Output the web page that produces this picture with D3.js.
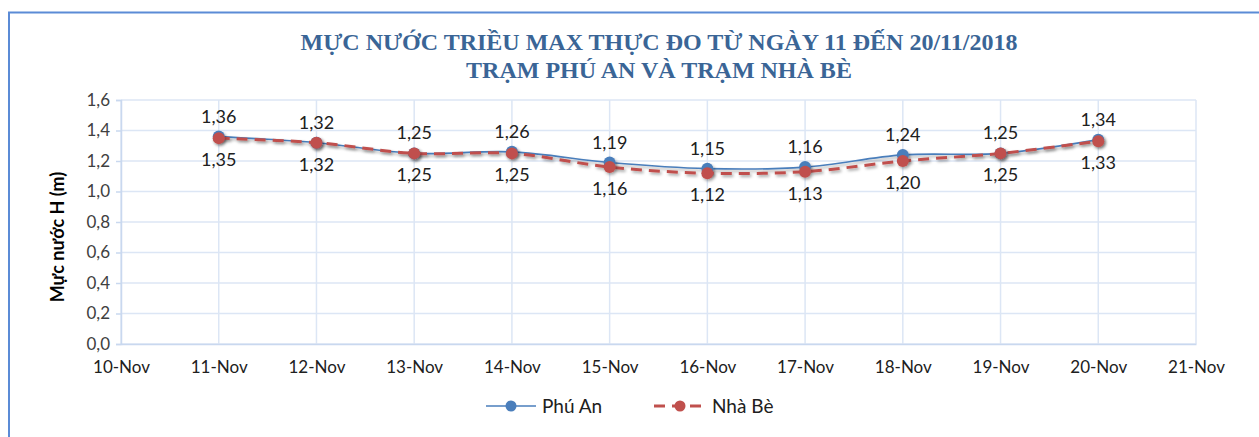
<!DOCTYPE html>
<html>
<head>
<meta charset="utf-8">
<script src="https://cdn.jsdelivr.net/npm/d3@7"></script>
<style>
  body { margin: 0; background: #fff; }
  svg { display: block; }
</style>
</head>
<body>
<div id="chart"></div>
<script>
// data
var days = ["10-Nov","11-Nov","12-Nov","13-Nov","14-Nov","15-Nov","16-Nov","17-Nov","18-Nov","19-Nov","20-Nov","21-Nov"];
var obsDays = ["11-Nov","12-Nov","13-Nov","14-Nov","15-Nov","16-Nov","17-Nov","18-Nov","19-Nov","20-Nov"];
var phuAn = [1.36, 1.32, 1.25, 1.26, 1.19, 1.15, 1.16, 1.24, 1.25, 1.34];
var nhaBe = [1.35, 1.32, 1.25, 1.25, 1.16, 1.12, 1.13, 1.20, 1.25, 1.33];
var yTicks = [0, 0.2, 0.4, 0.6, 0.8, 1.0, 1.2, 1.4, 1.6];
var titleLines = ["MỰC NƯỚC TRIỀU MAX THỰC ĐO TỪ NGÀY 11 ĐẾN 20/11/2018", "TRẠM PHÚ AN VÀ TRẠM NHÀ BÈ"];

var W = 1259, H = 437;
var margin = {top: 100, right: 63, bottom: 93, left: 121};
var width = W - margin.left - margin.right,
    height = H - margin.top - margin.bottom;

var fmt = function(v) { return d3.format(".2f")(v).replace(".", ","); };
var fmt1 = function(v) { return d3.format(".1f")(v).replace(".", ","); };
var font = "Lato, 'Open Sans', sans-serif";

var svgRoot = d3.select("#chart").append("svg")
  .attr("width", W).attr("height", H);

// shadow for lines and markers
var defs = svgRoot.append("defs");
var f = defs.append("filter").attr("id", "shadow")
  .attr("x", "-20%").attr("y", "-50%").attr("width", "140%").attr("height", "200%");
f.append("feDropShadow").attr("dx", 1.5).attr("dy", 2).attr("stdDeviation", 1.5)
  .attr("flood-color", "#000").attr("flood-opacity", 0.35);

// outer frame
svgRoot.append("path")
  .attr("d", "M9," + H + " L9,12.5 L" + W + ",12.5")
  .attr("fill", "none").attr("stroke", "#5b8bd6").attr("stroke-width", 2);

// title
svgRoot.append("g").selectAll("text").data(titleLines).join("text")
  .attr("x", 659).attr("y", function(d, i) { return 50 + i * 28; })
  .attr("text-anchor", "middle")
  .attr("font-family", "'Liberation Serif', 'Times New Roman', serif")
  .attr("font-weight", "bold").attr("font-size", 24)
  .attr("fill", "#3a6596")
  .text(function(d) { return d; });

var svg = svgRoot.append("g")
  .attr("transform", "translate(" + margin.left + "," + margin.top + ")");

var x = d3.scalePoint().domain(days).range([0, width]);
var y = d3.scaleLinear().domain([0, 1.6]).range([height, 0]);

var gridColor = "#dce6f5";

// horizontal grid
svg.append("g").selectAll("line").data(yTicks).join("line")
  .attr("x1", 0).attr("x2", width)
  .attr("y1", function(d) { return y(d); }).attr("y2", function(d) { return y(d); })
  .attr("stroke", gridColor).attr("stroke-width", 1.5);

// vertical grid
svg.append("g").selectAll("line").data(days).join("line")
  .attr("x1", function(d) { return x(d); }).attr("x2", function(d) { return x(d); })
  .attr("y1", 0).attr("y2", height)
  .attr("stroke", gridColor).attr("stroke-width", 1.5);

// y axis
var yAxis = svg.append("g")
  .call(d3.axisLeft(y).tickValues(yTicks).tickFormat(fmt1).tickSize(5).tickPadding(6));
yAxis.select(".domain").attr("stroke", "#c9d8ef").attr("stroke-width", 1.5);
yAxis.selectAll(".tick line").attr("stroke", "#c9d8ef").attr("stroke-width", 1.5);
yAxis.selectAll("text").attr("font-family", font)
  .attr("font-size", 17).attr("fill", "#404040");

// x axis
var xAxis = svg.append("g")
  .attr("transform", "translate(0," + height + ")")
  .call(d3.axisBottom(x).tickSize(0).tickPadding(17));
xAxis.select(".domain").attr("stroke", "#c9d8ef").attr("stroke-width", 1.5);
xAxis.selectAll("text").attr("font-family", font)
  .attr("font-size", 17).attr("fill", "#202020");

// y axis title
svgRoot.append("text")
  .attr("transform", "translate(64,237) rotate(-90)")
  .attr("text-anchor", "middle")
  .attr("font-family", font)
  .attr("font-weight", "bold").attr("font-size", 18).attr("fill", "#000")
  .text("Mực nước H (m)");

var blue = "#4a7ebb", red = "#c0504d";
var line = d3.line().curve(d3.curveCatmullRom.alpha(0.5))
  .x(function(d, i) { return x(obsDays[i]); })
  .y(function(d) { return y(d); });

// Phú An
svg.append("path").datum(phuAn)
  .attr("fill", "none").attr("stroke", blue).attr("stroke-width", 1.6)
  .attr("filter", "url(#shadow)")
  .attr("d", line);
svg.append("g").attr("filter", "url(#shadow)").selectAll("circle").data(phuAn).join("circle")
  .attr("cx", function(d, i) { return x(obsDays[i]); })
  .attr("cy", function(d) { return y(d); })
  .attr("r", 6).attr("fill", blue);

// Nhà Bè
svg.append("path").datum(nhaBe)
  .attr("fill", "none").attr("stroke", red).attr("stroke-width", 3)
  .attr("stroke-dasharray", "11,7")
  .attr("filter", "url(#shadow)")
  .attr("d", line);
svg.append("g").attr("filter", "url(#shadow)").selectAll("circle").data(nhaBe).join("circle")
  .attr("cx", function(d, i) { return x(obsDays[i]); })
  .attr("cy", function(d) { return y(d); })
  .attr("r", 6).attr("fill", red);

// data labels
svg.append("g").selectAll("text").data(phuAn).join("text")
  .attr("x", function(d, i) { return x(obsDays[i]); })
  .attr("y", function(d) { return y(d) - 14; })
  .attr("text-anchor", "middle")
  .attr("font-family", font).attr("font-size", 18).attr("fill", "#202020")
  .text(fmt);
svg.append("g").selectAll("text").data(nhaBe).join("text")
  .attr("x", function(d, i) { return x(obsDays[i]); })
  .attr("y", function(d) { return y(d) + 28; })
  .attr("text-anchor", "middle")
  .attr("font-family", font).attr("font-size", 18).attr("fill", "#202020")
  .text(fmt);

// legend
var legend = svgRoot.append("g").attr("transform", "translate(0,406)");
legend.append("line").attr("x1", 486).attr("x2", 536).attr("y1", 0).attr("y2", 0)
  .attr("stroke", blue).attr("stroke-width", 1.6);
legend.append("circle").attr("cx", 511).attr("cy", 0).attr("r", 5.5).attr("fill", blue);
legend.append("text").attr("x", 542).attr("y", 7)
  .attr("font-family", font).attr("font-size", 19).attr("fill", "#202020")
  .text("Phú An");
legend.append("line").attr("x1", 654).attr("x2", 706).attr("y1", 0).attr("y2", 0)
  .attr("stroke", red).attr("stroke-width", 3).attr("stroke-dasharray", "11,7");
legend.append("circle").attr("cx", 680).attr("cy", 0).attr("r", 5.5).attr("fill", red);
legend.append("text").attr("x", 712).attr("y", 7)
  .attr("font-family", font).attr("font-size", 19).attr("fill", "#202020")
  .text("Nhà Bè");
</script>
</body>
</html>
